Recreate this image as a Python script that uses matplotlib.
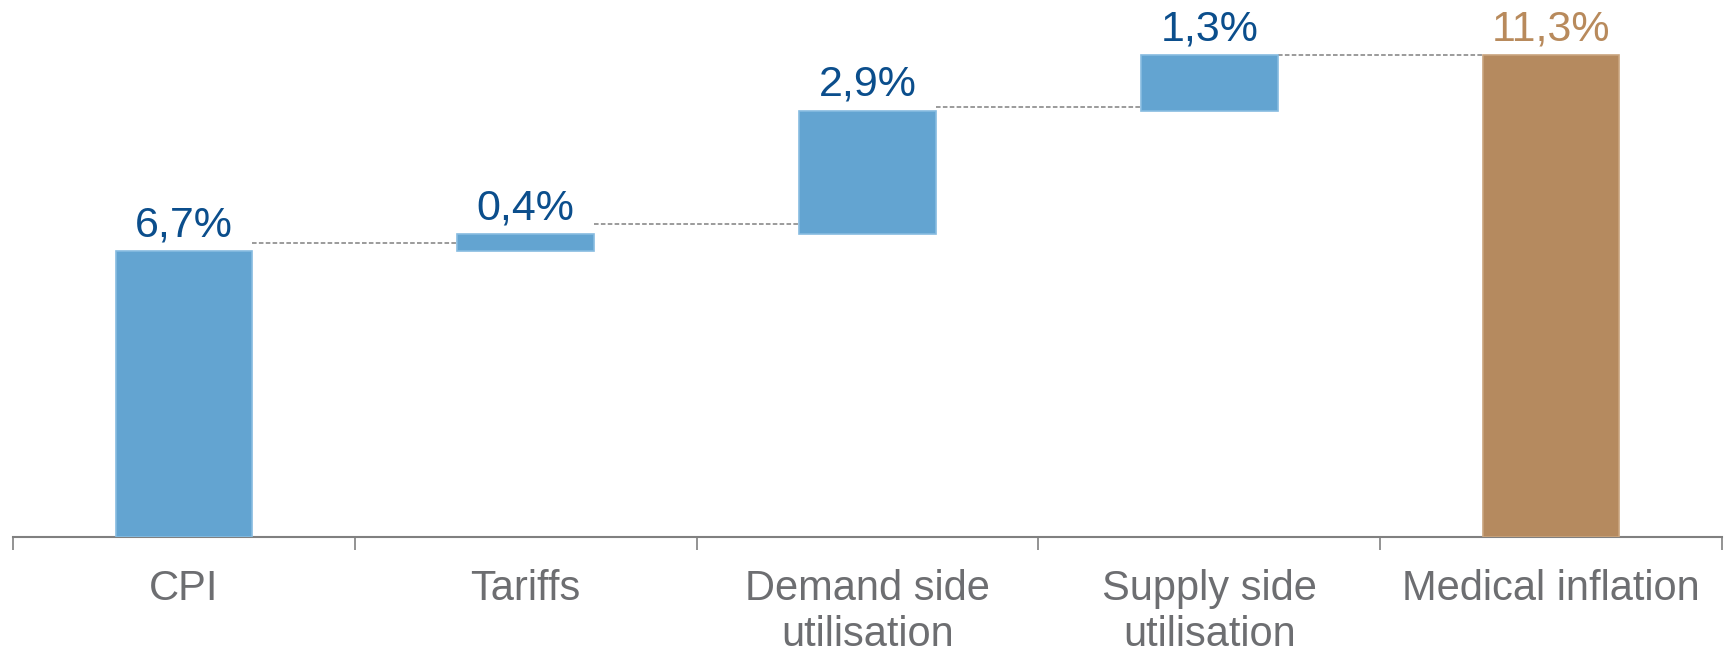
import matplotlib.pyplot as plt
import numpy as np

plt.rcParams["font.family"] = ["Liberation Sans", "DejaVu Sans"]

categories = ["CPI", "Tariffs", "Demand side\nutilisation", "Supply side\nutilisation", "Medical inflation"]
steps = [6.7, 0.4, 2.9, 1.3]
total = 11.3
value_labels = ["6,7%", "0,4%", "2,9%", "1,3%", "11,3%"]
# connector heights as drawn in the original (slightly off the running totals)
connector_levels = [6.9, 7.35, 10.1, 11.3]

BLUE = "#63A4D1"
BLUE_EDGE = "#86BBE0"
BROWN = "#B58A5F"
BROWN_EDGE = "#C9A47E"
LABEL_BLUE = "#0B4E8C"
LABEL_BROWN = "#B88A5C"
GREY = "#808080"
TEXT_GREY = "#6D6E71"

fig = plt.figure(figsize=(17.29, 6.54), dpi=100)
ax = fig.add_axes([13 / 1729, (654 - 537) / 654, (1722 - 13) / 1729, 537 / 654])

x = np.arange(len(categories))
width = 0.4
bottoms = np.concatenate([[0], np.cumsum(steps)[:-1], [0]])
heights = np.array(steps + [total])
colors = [BLUE] * len(steps) + [BROWN]
edges = [BLUE_EDGE] * len(steps) + [BROWN_EDGE]

ax.bar(x, heights, width=width, bottom=bottoms, color=colors,
       edgecolor=edges, linewidth=1.2, zorder=3)

for i, level in enumerate(connector_levels):
    ax.plot([x[i] + width / 2, x[i + 1] - width / 2], [level, level],
            color=GREY, linestyle=(0, (3, 1.5)), linewidth=1.1, zorder=2)

tops = bottoms + heights
for i, lab in enumerate(value_labels):
    ax.annotate(lab, (x[i], tops[i]), xytext=(0, 11), textcoords="offset points",
                ha="center", va="baseline", fontsize=31,
                color=LABEL_BROWN if i == len(value_labels) - 1 else LABEL_BLUE)

ax.set_xlim(-0.5, len(categories) - 0.5)
ax.set_ylim(0, 12.6)

for side in ["top", "right", "left"]:
    ax.spines[side].set_visible(False)
ax.spines["bottom"].set_color(GREY)
ax.spines["bottom"].set_linewidth(1.5)

ax.set_yticks([])
ax.set_xticks(np.arange(-0.5, len(categories)), labels=[""] * (len(categories) + 1))
ax.tick_params(axis="x", which="major", length=9.5, width=1.2, color=GREY, direction="out")
ax.set_xticks(x, labels=categories, minor=True)
ax.tick_params(axis="x", which="minor", length=0, pad=23, labelsize=30, labelcolor=TEXT_GREY)
for lab in ax.get_xticklabels(minor=True):
    lab.set_linespacing(1.2)

fig.savefig("out.png", dpi=100)
